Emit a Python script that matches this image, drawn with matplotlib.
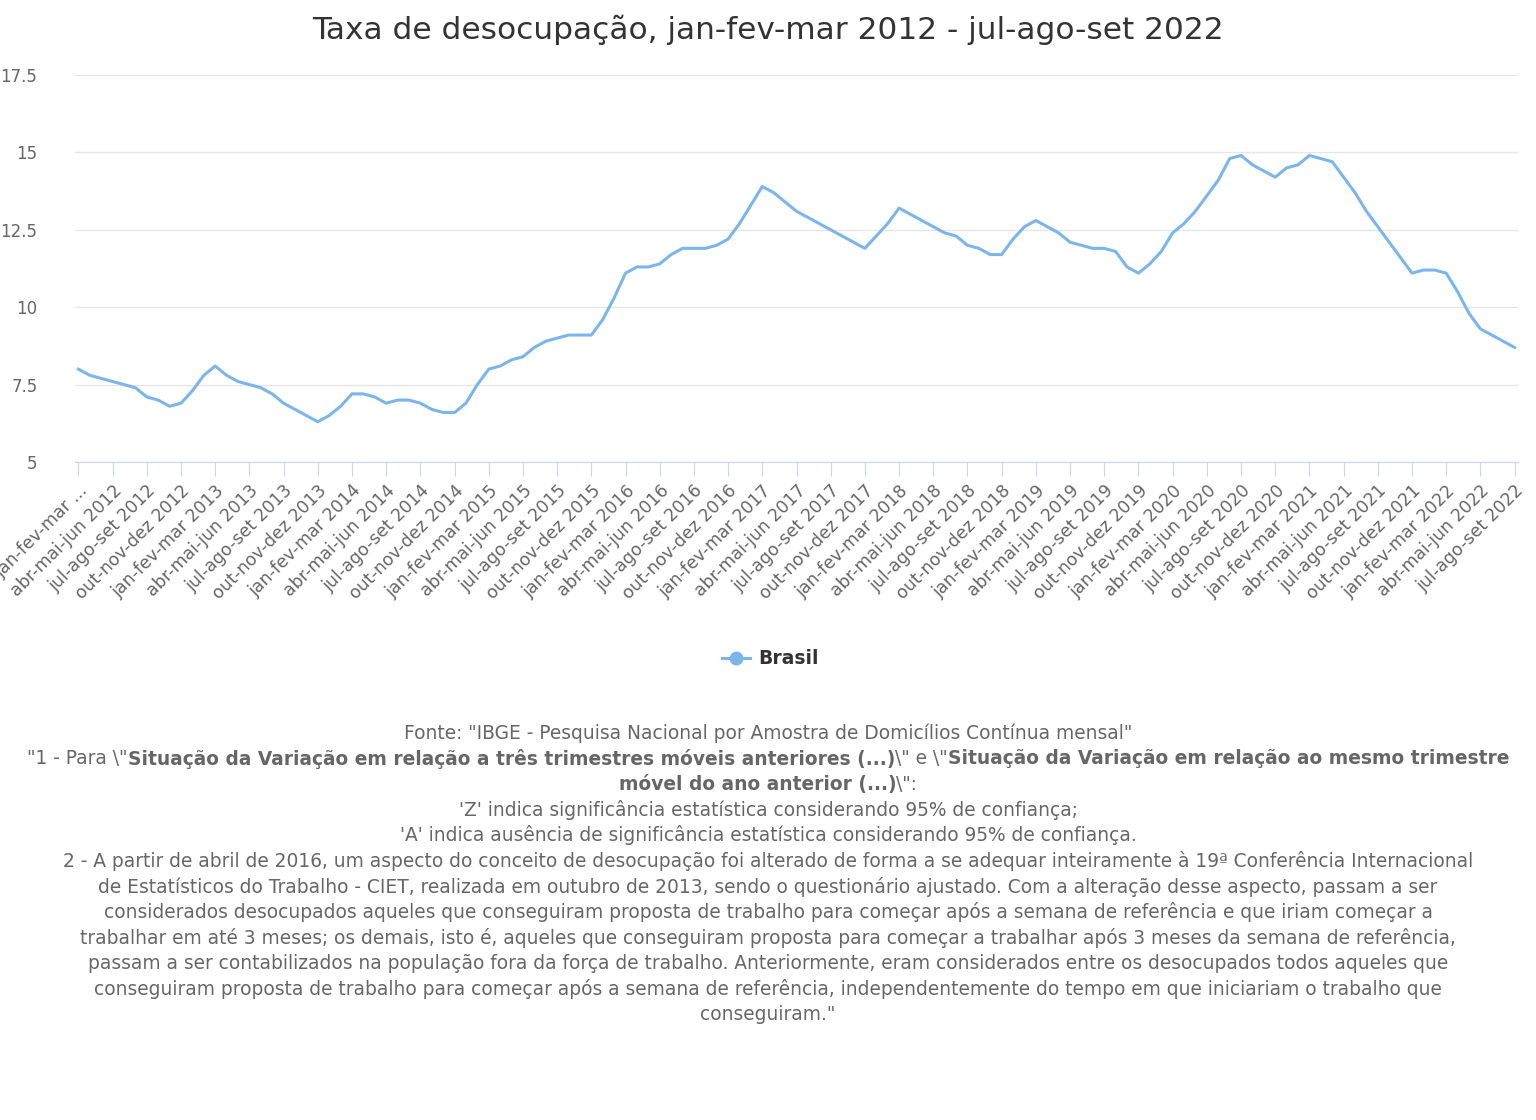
import numpy as np
import matplotlib.pyplot as plt

# taxa de desocupação, trimestres móveis jan-fev-mar 2012 .. jul-ago-set 2022
taxa = [8.0, 7.8, 7.7, 7.6, 7.5, 7.4, 7.1, 7.0, 6.8, 6.9,
        7.3, 7.8, 8.1, 7.8, 7.6, 7.5, 7.4, 7.2, 6.9, 6.7, 6.5, 6.3,
        6.5, 6.8, 7.2, 7.2, 7.1, 6.9, 7.0, 7.0, 6.9, 6.7, 6.6, 6.6,
        6.9, 7.5, 8.0, 8.1, 8.3, 8.4, 8.7, 8.9, 9.0, 9.1, 9.1, 9.1,
        9.6, 10.3, 11.1, 11.3, 11.3, 11.4, 11.7, 11.9, 11.9, 11.9, 12.0, 12.2,
        12.7, 13.3, 13.9, 13.7, 13.4, 13.1, 12.9, 12.7, 12.5, 12.3, 12.1, 11.9,
        12.3, 12.7, 13.2, 13.0, 12.8, 12.6, 12.4, 12.3, 12.0, 11.9, 11.7, 11.7,
        12.2, 12.6, 12.8, 12.6, 12.4, 12.1, 12.0, 11.9, 11.9, 11.8, 11.3, 11.1,
        11.4, 11.8, 12.4, 12.7, 13.1, 13.6, 14.1, 14.8, 14.9, 14.6, 14.4, 14.2,
        14.5, 14.6, 14.9, 14.8, 14.7, 14.2, 13.7, 13.1, 12.6, 12.1, 11.6, 11.1,
        11.2, 11.2, 11.1, 10.5, 9.8, 9.3, 9.1, 8.9, 8.7]

meses = ["jan", "fev", "mar", "abr", "mai", "jun", "jul", "ago", "set", "out", "nov", "dez"]
rotulos = []
for i in range(len(taxa)):
    m = i + 2  # índice do último mês (mar 2012 = 2)
    ano = 2012 + m // 12
    k = m % 12
    rotulos.append("%s-%s-%s %d" % (meses[(k - 2) % 12], meses[(k - 1) % 12], meses[k], ano))
rotulos[0] = "jan-fev-mar ..."

cor = "#7cb5ec"
cinza = "#666666"

fig = plt.figure(figsize=(15.36, 11.2), dpi=100)
ax = fig.add_axes([75 / 1536, 1 - 462 / 1120, (1518 - 75) / 1536, (462 - 75) / 1120])
x = np.arange(len(taxa))
ax.plot(x, taxa, color=cor, lw=2.2)
ax.set_xlim(-0.3, len(taxa) - 1 + 0.3)
ax.set_ylim(5, 17.5)
ax.set_yticks([5, 7.5, 10, 12.5, 15, 17.5])
ax.set_yticklabels(["5", "7.5", "10", "12.5", "15", "17.5"])
ax.yaxis.grid(True, color="#e6e6e6", lw=1)
ax.set_axisbelow(True)
for s in ["top", "right", "left"]:
    ax.spines[s].set_visible(False)
ax.spines["bottom"].set_color("#ccd6eb")
ax.tick_params(axis="y", length=0, labelsize=12, labelcolor=cinza, pad=28)
ticks = x[::3]
ax.set_xticks(ticks)
ax.set_xticklabels([rotulos[i] for i in ticks], rotation=45, ha="right",
                   rotation_mode="anchor", fontsize=12.5, color=cinza)
ax.tick_params(axis="x", length=10, color="#ccd6eb", pad=4)
for lab in ax.get_yticklabels():
    lab.set_horizontalalignment("right")
ax.tick_params(axis="y", pad=27)

fig.text(0.5, 1 - 30 / 1120, "Taxa de desocupação, jan-fev-mar 2012 - jul-ago-set 2022",
         ha="center", va="center", fontsize=22.5, color="#333333")

# legenda
ly = 1 - 658 / 1120
fig.add_artist(plt.Line2D([722 / 1536, 750 / 1536], [ly, ly], color=cor, lw=2.2))
fig.add_artist(plt.Line2D([736 / 1536], [ly], color=cor, marker="o", markersize=9))
fig.text(758 / 1536, ly, "Brasil", ha="left", va="center", fontsize=13.5,
         fontweight="bold", color="#333333")

fs = 13.4
linhas = [
    [('Fonte: "IBGE - Pesquisa Nacional por Amostra de Domicílios Contínua mensal"', False)],
    [('"1 - Para \\"', False),
     ('Situação da Variação em relação a três trimestres móveis anteriores (...)', True),
     ('\\" e \\"', False),
     ('Situação da Variação em relação ao mesmo trimestre', True)],
    [('móvel do ano anterior (...)', True), ('\\":', False)],
    [("'Z' indica significância estatística considerando 95% de confiança;", False)],
    [("'A' indica ausência de significância estatística considerando 95% de confiança.", False)],
    [("2 - A partir de abril de 2016, um aspecto do conceito de desocupação foi alterado de forma a se adequar inteiramente à 19ª Conferência Internacional", False)],
    [("de Estatísticos do Trabalho - CIET, realizada em outubro de 2013, sendo o questionário ajustado. Com a alteração desse aspecto, passam a ser", False)],
    [("considerados desocupados aqueles que conseguiram proposta de trabalho para começar após a semana de referência e que iriam começar a", False)],
    [("trabalhar em até 3 meses; os demais, isto é, aqueles que conseguiram proposta para começar a trabalhar após 3 meses da semana de referência,", False)],
    [("passam a ser contabilizados na população fora da força de trabalho. Anteriormente, eram considerados entre os desocupados todos aqueles que", False)],
    [("conseguiram proposta de trabalho para começar após a semana de referência, independentemente do tempo em que iniciariam o trabalho que", False)],
    [('conseguiram."', False)],
]

renderer = fig.canvas.get_renderer()
for n, partes in enumerate(linhas):
    y = 1 - (733 + n * 25.6) / 1120
    objs = [fig.text(0, y, t, ha="left", va="center", fontsize=fs, color=cinza,
                     fontweight="bold" if b else "normal") for t, b in partes]
    larg = [o.get_window_extent(renderer).width for o in objs]
    x0 = (1536 - sum(larg)) / 2
    for o, w in zip(objs, larg):
        o.set_x(x0 / 1536)
        x0 += w

fig.savefig("out.png", dpi=100)
